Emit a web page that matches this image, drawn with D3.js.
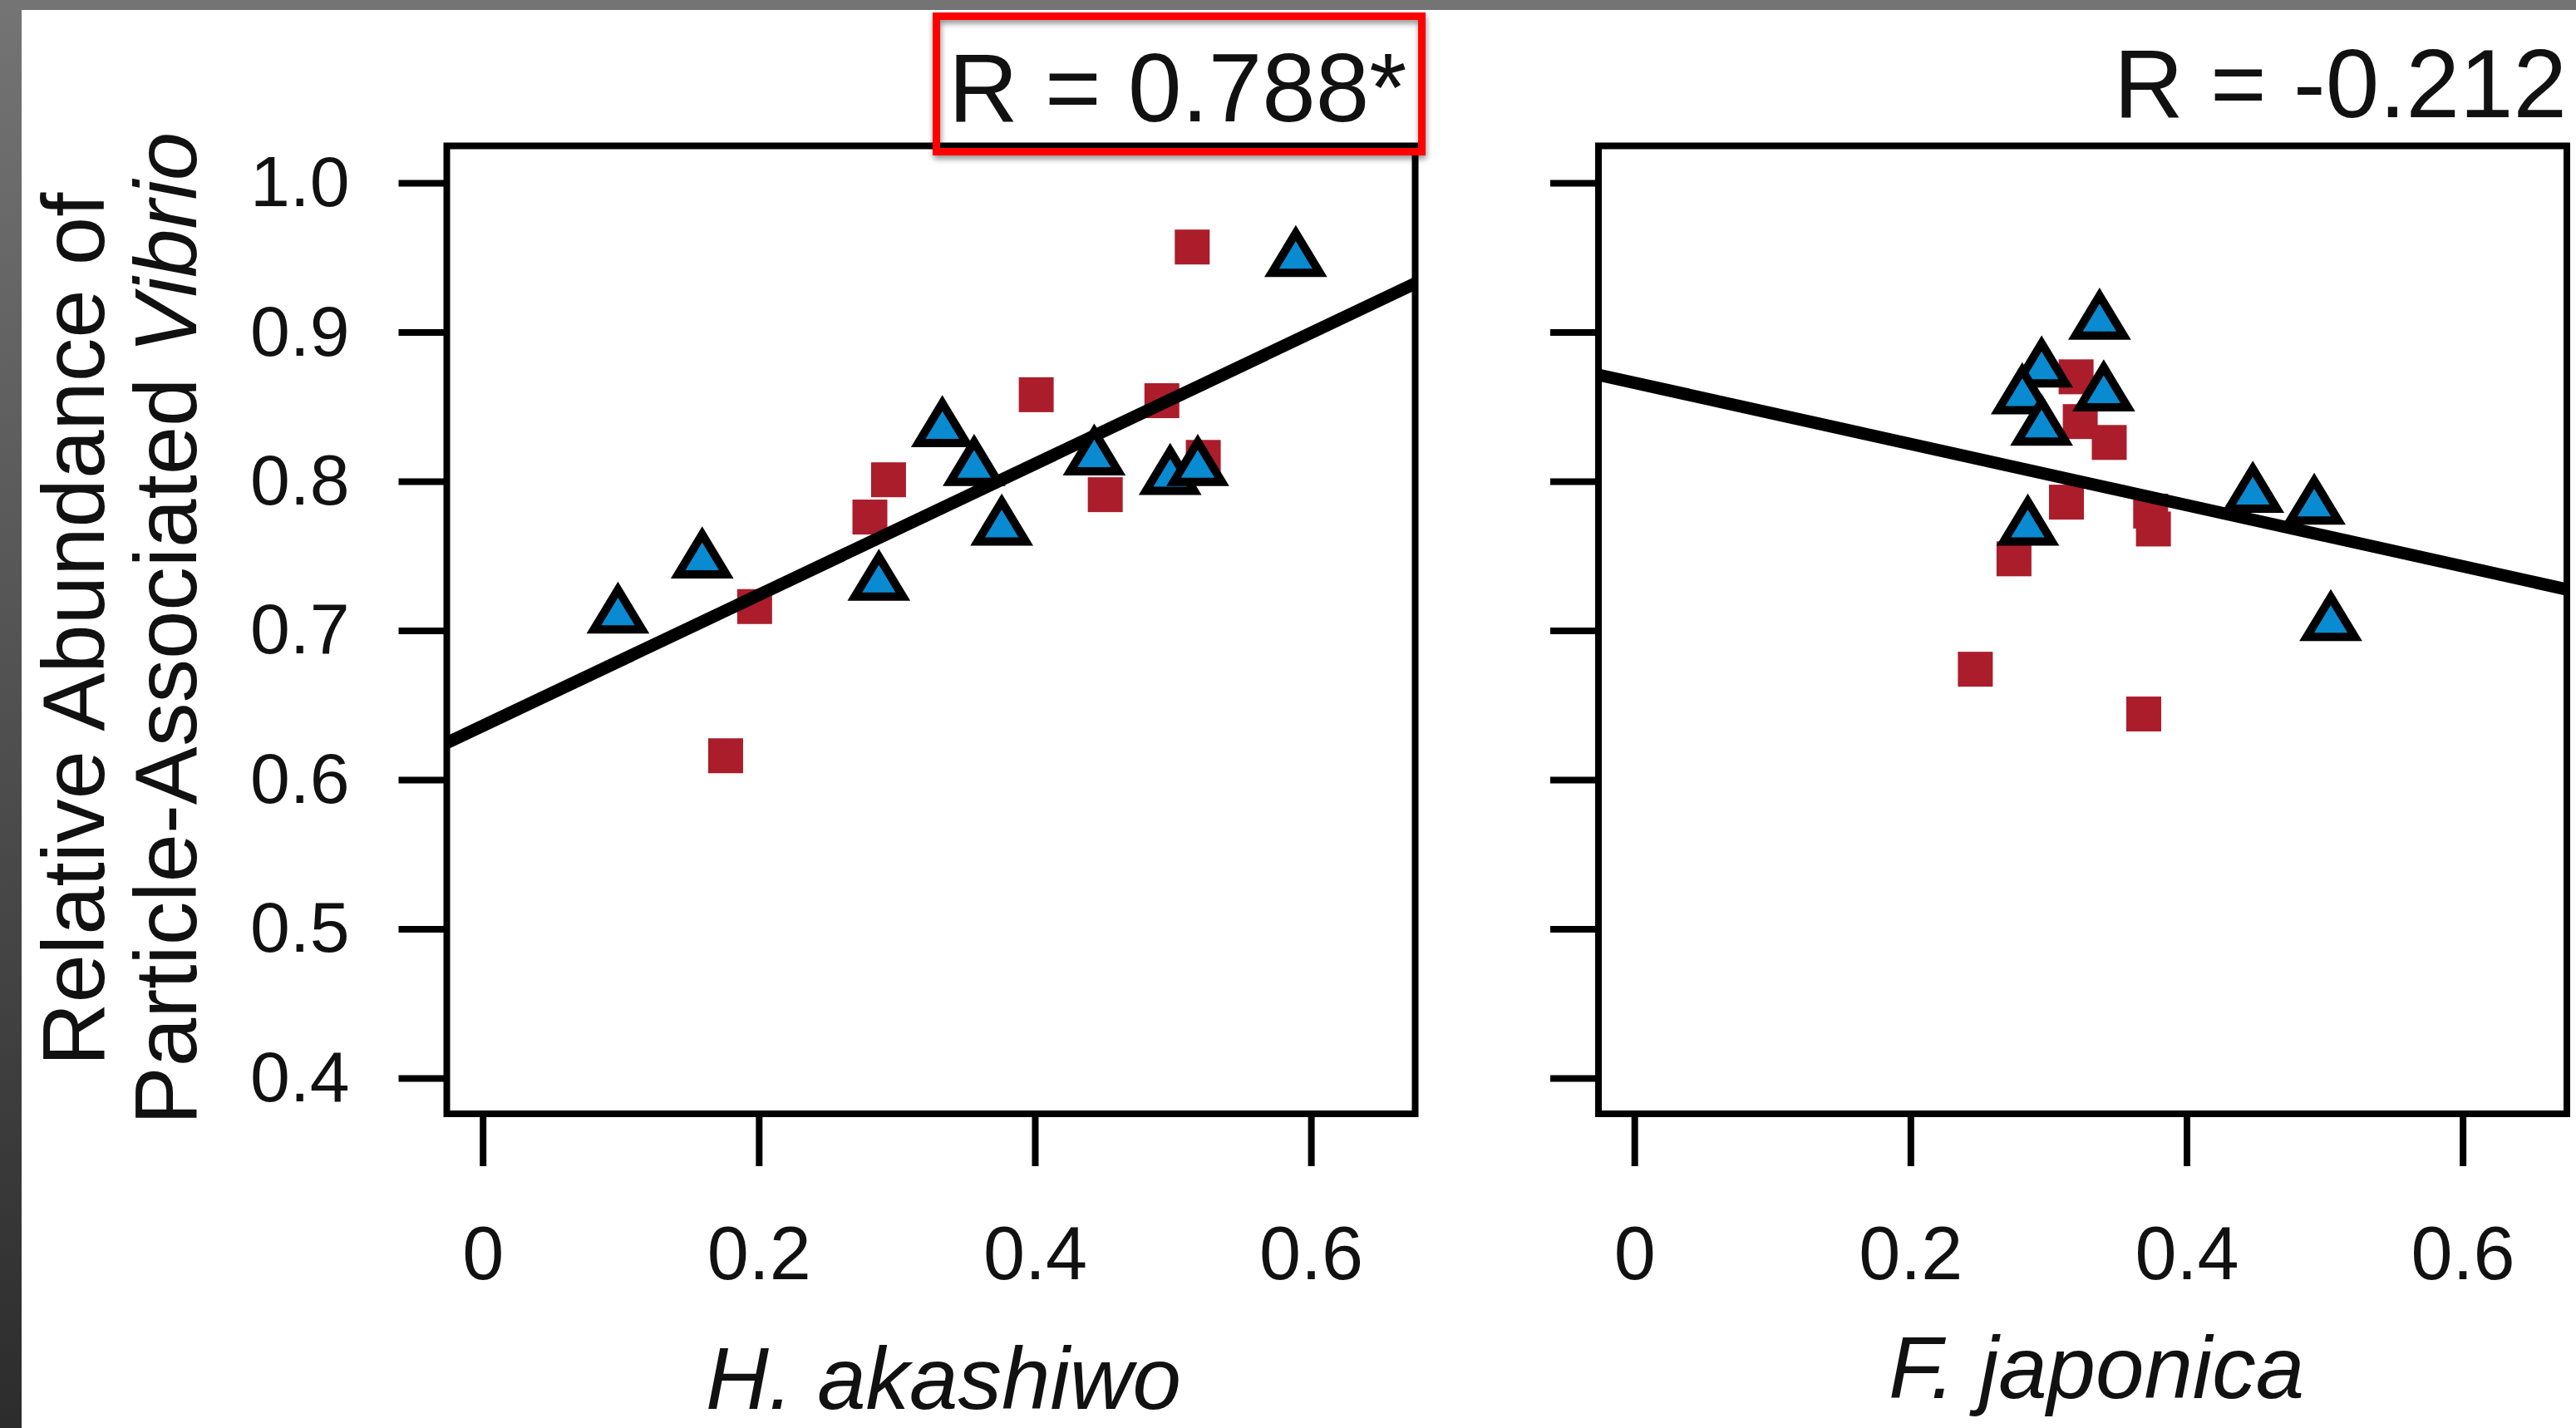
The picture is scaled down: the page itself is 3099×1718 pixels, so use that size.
<!DOCTYPE html>
<html>
<head>
<meta charset="utf-8">
<script src="https://cdnjs.cloudflare.com/ajax/libs/d3/7.8.5/d3.min.js"></script>
<style>
  body { margin: 0; padding: 0; overflow: hidden; }
  text { font-family: "Liberation Sans", Arial, Helvetica, sans-serif; fill: #111; }
</style>
</head>
<body>
<div id="chart"></div>
<script>
// values
var xTicks = [0, 0.2, 0.4, 0.6]
var yTicks = [0.4, 0.5, 0.6, 0.7, 0.8, 0.9, 1.0]
var xTitles = ["H. akashiwo", "F. japonica"]
var rLabels = ["R = 0.788*", "R = -0.212"]

var hAkashiwoSquares = [[0.514,0.957],[0.401,0.858],[0.492,0.854],[0.294,0.801],[0.2805,0.776],
  [0.522,0.816],[0.451,0.791],[0.197,0.716],[0.176,0.616]]
var hAkashiwoTriangles = [[0.098,0.714],[0.159,0.751],[0.287,0.736],[0.333,0.839],[0.356,0.813],
  [0.376,0.773],[0.443,0.820],[0.498,0.807],[0.518,0.813],[0.589,0.953]]
var fJaponicaSquares = [[0.320,0.870],[0.323,0.840],[0.344,0.826],[0.313,0.786],[0.374,0.780],
  [0.376,0.768],[0.275,0.748],[0.247,0.674],[0.369,0.644]]
var fJaponicaTriangles = [[0.337,0.911],[0.295,0.879],[0.281,0.861],[0.340,0.863],[0.295,0.840],
  [0.285,0.773],[0.448,0.795],[0.4925,0.787],[0.5045,0.709]]
// fitted line: intercept, slope
var hAkashiwoFit = [0.636, 0.439]
var fJaponicaFit = [0.866, -0.205]

var W = 3099, H = 1718
var boxW = 1165, boxH = 1164.5, boxTop = 175.5

var svg = d3.select("#chart")
  .append("svg")
  .attr("width", W)
  .attr("height", H)

var defs = svg.append("defs")
var grad = defs.append("linearGradient").attr("id", "bg").attr("x1", 0).attr("y1", 0).attr("x2", 0).attr("y2", 1)
grad.append("stop").attr("offset", "0%").attr("stop-color", "#747474")
grad.append("stop").attr("offset", "100%").attr("stop-color", "#2c2c2c")
var shadow = defs.append("filter").attr("id", "shadow").attr("x", "-10%").attr("y", "-20%").attr("width", "120%").attr("height", "150%")
shadow.append("feDropShadow").attr("dx", 1).attr("dy", 4).attr("stdDeviation", 3.5)
  .attr("flood-color", "#000").attr("flood-opacity", 0.45)

// gray frame and white sheet
svg.append("rect").attr("width", W).attr("height", H).attr("fill", "url(#bg)")
svg.append("rect").attr("x", 26).attr("y", 12).attr("width", W - 26).attr("height", H - 12).attr("fill", "#fff")

var x = d3.scaleLinear().domain([-0.026, 0.6755]).range([0, boxW])
var y = d3.scaleLinear().domain([0.376, 1.0248]).range([boxH, 0])

var panels = [
  {left: 537.5, squares: hAkashiwoSquares, triangles: hAkashiwoTriangles, fit: hAkashiwoFit, labels: true},
  {left: 1923, squares: fJaponicaSquares, triangles: fJaponicaTriangles, fit: fJaponicaFit, labels: false}
]

var tri = "M0,-24 L29,24 L-29,24 Z"

panels.forEach(function(p, i){
  var g = svg.append("g").attr("transform", "translate(" + p.left + "," + boxTop + ")")

  g.append("rect")
    .attr("width", boxW).attr("height", boxH)
    .attr("fill", "#fff")

  // y axis
  var yAxis = d3.axisLeft(y).tickValues(yTicks).tickSize(58).tickPadding(59)
    .tickFormat(p.labels ? d3.format(".1f") : "")
  var ya = g.append("g").call(yAxis)
  ya.select(".domain").remove()
  ya.selectAll("line").attr("stroke", "#000").attr("stroke-width", 8)
  ya.selectAll("text").attr("font-size", 86).attr("fill", "#111")
    .style("font-family", "'Liberation Sans', Arial, sans-serif")

  // x axis
  var xAxis = d3.axisBottom(x).tickValues(xTicks).tickSize(63).tickPadding(72)
    .tickFormat(function(d){ return d === 0 ? "0" : d3.format(".1f")(d) })
  var xa = g.append("g").attr("transform", "translate(0," + boxH + ")").call(xAxis)
  xa.select(".domain").remove()
  xa.selectAll("line").attr("stroke", "#000").attr("stroke-width", 8)
  xa.selectAll("text").attr("font-size", 90).attr("fill", "#111")
    .style("font-family", "'Liberation Sans', Arial, sans-serif")

  // points
  g.selectAll(".sq")
    .data(p.squares)
    .enter()
    .append("rect")
      .attr("x", function(d){ return x(d[0]) - 21 })
      .attr("y", function(d){ return y(d[1]) - 21 })
      .attr("width", 42).attr("height", 42)
      .attr("fill", "#AC1D2C")

  var x0 = x.domain()[0], x1 = x.domain()[1]
  g.append("line")
    .attr("x1", x(x0)).attr("y1", y(p.fit[0] + p.fit[1] * x0))
    .attr("x2", x(x1)).attr("y2", y(p.fit[0] + p.fit[1] * x1))
    .attr("stroke", "#000").attr("stroke-width", 15)

  g.selectAll(".tri")
    .data(p.triangles)
    .enter()
    .append("path")
      .attr("transform", function(d){ return "translate(" + x(d[0]) + "," + y(d[1]) + ")" })
      .attr("d", tri)
      .attr("fill", "#0A8AD0")
      .attr("stroke", "#000")
      .attr("stroke-width", 10)
      .attr("stroke-linejoin", "miter")

  // frame on top
  g.append("rect")
    .attr("width", boxW).attr("height", boxH)
    .attr("fill", "none").attr("stroke", "#000").attr("stroke-width", 8)
})

// x titles
svg.append("text").attr("x", 1135).attr("y", 1695).attr("text-anchor", "middle")
  .attr("font-size", 105).attr("font-style", "italic").text(xTitles[0])
svg.append("text").attr("x", 2522).attr("y", 1682).attr("text-anchor", "middle")
  .attr("font-size", 105).attr("font-style", "italic").text(xTitles[1])

// y title, two lines
svg.append("text")
  .attr("transform", "translate(125,757) rotate(-90)")
  .attr("text-anchor", "middle").attr("font-size", 105)
  .text("Relative Abundance of")
var t2 = svg.append("text")
  .attr("transform", "translate(236,756) rotate(-90)")
  .attr("text-anchor", "middle").attr("font-size", 105)
t2.append("tspan").text("Particle-Associated ")
t2.append("tspan").attr("font-style", "italic").text("Vibrio")

// R values
svg.append("text").attr("x", 1141).attr("y", 146).attr("font-size", 116).text(rLabels[0])
svg.append("text").attr("x", 3088).attr("y", 141).attr("text-anchor", "end").attr("font-size", 116).text(rLabels[1])

// red highlight box
svg.append("rect")
  .attr("x", 1126.5).attr("y", 19.5)
  .attr("width", 584).attr("height", 163)
  .attr("fill", "none").attr("stroke", "#FF0000").attr("stroke-width", 9)
  .attr("filter", "url(#shadow)")
</script>
</body>
</html>
